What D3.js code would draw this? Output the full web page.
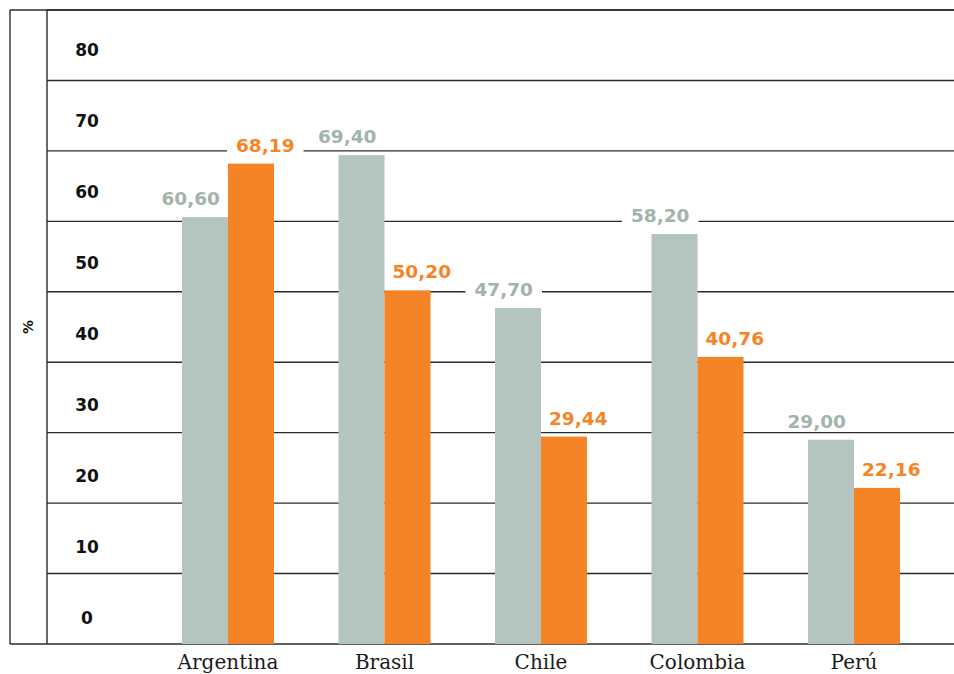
<!DOCTYPE html>
<html>
<head>
<meta charset="utf-8">
<script src="https://cdn.jsdelivr.net/npm/d3@7"></script>
<style>
  html, body { margin: 0; padding: 0; background: #fff; }
  svg { display: block; }
</style>
</head>
<body>
<svg id="chart" width="954" height="674"></svg>
<script>
const categories = ["Argentina", "Brasil", "Chile", "Colombia", "Perú"];
const seriesA = [60.60, 69.40, 47.70, 58.20, 29.00];   // gray
const seriesB = [68.19, 50.20, 29.44, 40.76, 22.16];   // orange
const tickValues = [0, 10, 20, 30, 40, 50, 60, 70, 80];
const gridValues = [0, 10, 20, 30, 40, 50, 60, 70, 80, 90];
const axisTitle = "%";

(function () {
const fmt = v => v.toFixed(2).replace(".", ",");

const svg = d3.select("#chart");
const W = 954;
const frameLeft = 10, innerLeft = 47, plotTop = 10, plotBottom = 644;

const y = d3.scaleLinear().domain([0, 90]).range([plotBottom, plotTop]);
const yLabel = d3.scaleLinear().domain([0, 80]).range([618, 49.5]);
const x = d3.scalePoint().domain(categories).range([228, 854]);
const barW = 46;
const sub = d3.scaleBand().domain(["a", "b"]).range([-barW, barW]).padding(0);

const lineColor = "#2b2b2b";
const gray = "#b4c4be", grayText = "#a2b3ab", orange = "#f58426";

// gridlines
svg.append("g").selectAll("line").data(gridValues).join("line")
  .attr("x1", innerLeft).attr("x2", W)
  .attr("y1", d => y(d)).attr("y2", d => y(d))
  .attr("stroke", lineColor).attr("stroke-width", 1.4);

// frame
svg.append("line").attr("x1", frameLeft).attr("x2", W).attr("y1", plotTop).attr("y2", plotTop)
  .attr("stroke", lineColor).attr("stroke-width", 1.4);
svg.append("line").attr("x1", frameLeft).attr("x2", innerLeft).attr("y1", plotBottom).attr("y2", plotBottom)
  .attr("stroke", lineColor).attr("stroke-width", 1.4);
svg.append("line").attr("x1", frameLeft).attr("x2", frameLeft).attr("y1", plotTop).attr("y2", plotBottom)
  .attr("stroke", lineColor).attr("stroke-width", 1.4);
svg.append("line").attr("x1", innerLeft).attr("x2", innerLeft).attr("y1", plotTop).attr("y2", plotBottom)
  .attr("stroke", lineColor).attr("stroke-width", 1.4);

// tick labels
svg.append("g").selectAll("text").data(tickValues).join("text")
  .attr("x", 87).attr("y", d => yLabel(d))
  .attr("dy", "0.36em")
  .attr("text-anchor", "middle")
  .attr("font-family", "'DejaVu Sans', sans-serif")
  .attr("font-weight", "bold").attr("font-size", 17)
  .attr("fill", "#111")
  .text(d => d);

// axis title
svg.append("text")
  .attr("transform", "translate(28.5,327) rotate(-90)")
  .attr("text-anchor", "middle").attr("dy", "0.35em")
  .attr("font-family", "'DejaVu Sans', sans-serif")
  .attr("font-weight", "bold").attr("font-size", 14)
  .attr("fill", "#111")
  .text(axisTitle);

const data = categories.map((c, i) => ({ c, a: seriesA[i], b: seriesB[i] }));

const bgLayer = svg.append("g");
const barLayer = svg.append("g");
const textLayer = svg.append("g");

// bars
const groups = barLayer.selectAll("g").data(data).join("g")
  .attr("transform", d => `translate(${x(d.c)},0)`);
groups.append("rect")
  .attr("x", sub("a")).attr("width", sub.bandwidth())
  .attr("y", d => y(d.a)).attr("height", d => y(0) - y(d.a))
  .attr("fill", gray);
groups.append("rect")
  .attr("x", sub("b")).attr("width", sub.bandwidth())
  .attr("y", d => y(d.b)).attr("height", d => y(0) - y(d.b))
  .attr("fill", orange);

// value labels with white backing (backing sits under bars, over gridlines)
function addLabel(cx, val, anchor, color) {
  const bg = bgLayer.append("rect").attr("fill", "#fff");
  const tx = anchor === "end" ? cx - 8 : cx + 8;
  const t = textLayer.append("text")
    .attr("x", tx)
    .attr("y", y(val) - 12)
    .attr("text-anchor", anchor)
    .attr("font-family", "'DejaVu Sans', sans-serif")
    .attr("font-weight", "bold").attr("font-size", 18.5)
    .attr("fill", color)
    .text(fmt(val));
  const w = t.node().getComputedTextLength();
  const x0 = anchor === "end" ? tx - w : tx;
  bg.attr("x", x0 - 9).attr("width", w + 18)
    .attr("y", y(val) - 12 - 17).attr("height", 20);
}
data.forEach(d => {
  addLabel(x(d.c), d.a, "end", grayText);
  addLabel(x(d.c), d.b, "start", orange);
});

// category labels
svg.append("g").selectAll("text").data(categories).join("text")
  .attr("x", d => x(d)).attr("y", 669)
  .attr("text-anchor", "middle")
  .attr("font-family", "'DejaVu Serif', serif")
  .attr("font-size", 20)
  .attr("fill", "#1a1a1a")
  .text(d => d);
})();
</script>
</body>
</html>
